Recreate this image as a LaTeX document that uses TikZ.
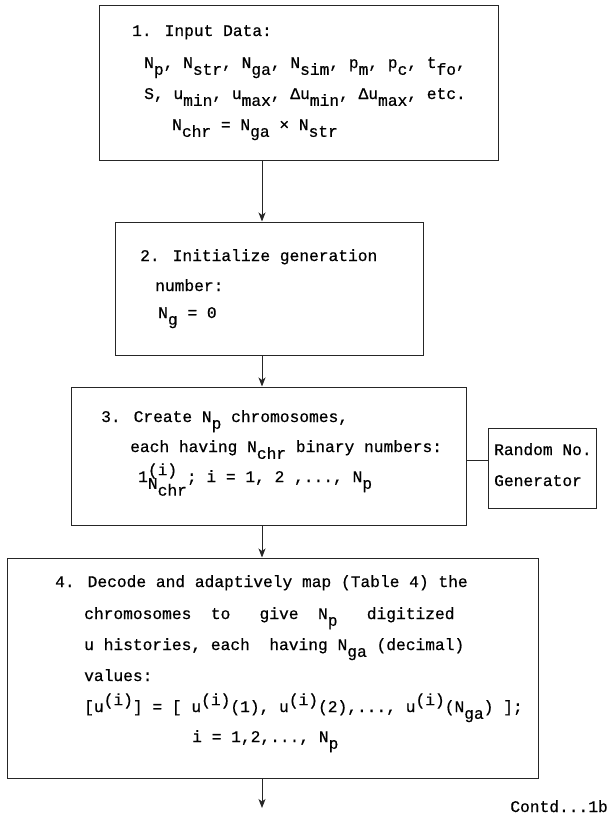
\documentclass[tikz,border=0pt]{standalone}
\usepackage{fontspec}
\newfontfamily\cour[FakeBold=0.6]{Liberation Mono}
\usetikzlibrary{arrows.meta}
\newcommand\sbs[1]{\raisebox{-0.42em}{#1}}
\newcommand\sps[1]{\raisebox{0.42em}{#1}}
\begin{document}
\begin{tikzpicture}[x=1bp,y=-1bp,
  boxst/.style={draw=black!85, line width=1bp, rectangle, inner sep=0pt},
  txt/.style={anchor=base west, inner sep=0pt, font=\cour\fontsize{16.3}{16.3}\selectfont},
  arr/.style={draw=black!85, line width=0.9bp, -{Stealth[length=9bp,width=7bp,inset=2.5bp]}},
  link/.style={draw=black!85, line width=0.9bp}]
\useasboundingbox (0,0) rectangle (612,818);
% boxes
\node[boxst, minimum width=398bp, minimum height=154bp] (b1) at (299,83) {};
\node[boxst, minimum width=307bp, minimum height=133bp] (b2) at (269.5,288.5) {};
\node[boxst, minimum width=394bp, minimum height=138bp] (b3) at (269,456) {};
\node[boxst, minimum width=108bp, minimum height=80bp] (rnd) at (542,468) {};
\node[boxst, minimum width=530bp, minimum height=220bp] (b4) at (273,668) {};
% box 1 text
\node[txt] (t11) at (132,36) {1. Input Data:};
\node[txt] (t12) at (144,68) {N\sbs{p}, N\sbs{str}, N\sbs{ga}, N\sbs{sim}, p\sbs{m}, p\sbs{c}, t\sbs{fo},};
\node[txt] (t13) at (144,99) {S, u\sbs{min}, u\sbs{max}, Δu\sbs{min}, Δu\sbs{max}, etc.};
\node[txt] (t14) at (172,130) {N\sbs{chr} = N\sbs{ga} × N\sbs{str}};
% box 2 text
\node[txt] (t21) at (140,261) {2. Initialize generation};
\node[txt] (t22) at (155,291) {number:};
\node[txt] (t23) at (158,318) {N\sbs{g} = 0};
% box 3 text
\node[txt] (t31) at (101,422) {3. Create N\sbs{p} chromosomes,};
\node[txt] (t32) at (130,452) {each having N\sbs{chr} binary numbers:};
\node[txt] (t33) at (138,482) {1\rlap{\sps{(i)}}\sbs{N\sbs{chr}}; i = 1, 2 ,..., N\sbs{p}};
% random generator
\node[txt] (tr1) at (494,455) {Random No.};
\node[txt] (tr2) at (494,486) {Generator};
% box 4 text
\node[txt] (t41) at (55,587) {4. Decode and adaptively map (Table 4) the};
\node[txt] (t42) at (84,619) {chromosomes~~to~~~give~~N\sbs{p}~~~digitized};
\node[txt] (t43) at (84,650) {u histories, each~~having N\sbs{ga} (decimal)};
\node[txt] (t44) at (84,681) {values:};
\node[txt] (t45) at (84,712) {[u\sps{(i)}] = [ u\sps{(i)}(1), u\sps{(i)}(2),..., u\sps{(i)}(N\sbs{ga}) ];};
\node[txt] (t46) at (192,742) {i = 1,2,..., N\sbs{p}};
% continuation
\node[txt, anchor=base east] (contd) at (608,812) {Contd...1b};
% connectors
\coordinate (ax) at (262,0);
\coordinate (rc) at (0,460);
\coordinate (endc) at (262,808);
\draw[arr] (b1.south -| ax) -- (b2.north -| ax);
\draw[arr] (b2.south -| ax) -- (b3.north -| ax);
\draw[arr] (b3.south -| ax) -- (b4.north -| ax);
\draw[arr] (b4.south -| ax) -- (endc);
\draw[link] (b3.east |- rc) -- (rnd.west |- rc);
\end{tikzpicture}
\end{document}
